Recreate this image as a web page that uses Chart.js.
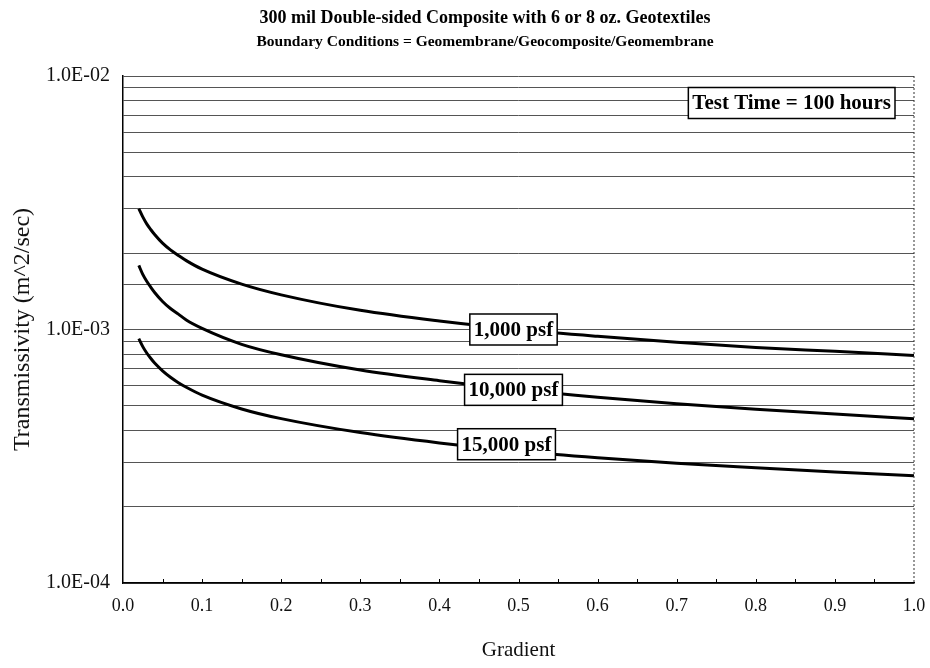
<!DOCTYPE html>
<html>
<head>
<meta charset="utf-8">
<script src="https://cdn.jsdelivr.net/npm/chart.js@4"></script>
<style>
  html, body { margin: 0; padding: 0; background: #fff; }
  #wrap { width: 930px; height: 668px; }
</style>
</head>
<body>
<div id="wrap"><canvas id="grafico"></canvas></div>
<script>
// valores (gradiente x transmissividade)
const gradientes = [0.02, 0.025, 0.03, 0.035, 0.04, 0.05, 0.06, 0.07, 0.08, 0.1, 0.15, 0.2, 0.3, 0.4, 0.5, 0.6, 0.7, 0.8, 0.9, 1.0];
const psf1000 = [3.00e-3, 2.78e-3, 2.61e-3, 2.48e-3, 2.37e-3, 2.19e-3, 2.06e-3, 1.96e-3, 1.87e-3, 1.73e-3, 1.51e-3, 1.37e-3, 1.19e-3, 1.08e-3, 1.00e-3, 0.94e-3, 0.89e-3, 0.85e-3, 0.82e-3, 0.79e-3];
const psf10000 = [1.79e-3, 1.65e-3, 1.55e-3, 1.47e-3, 1.40e-3, 1.29e-3, 1.21e-3, 1.15e-3, 1.09e-3, 1.01e-3, 0.874e-3, 0.795e-3, 0.692e-3, 0.628e-3, 0.578e-3, 0.540e-3, 0.510e-3, 0.485e-3, 0.464e-3, 0.445e-3];
const psf15000 = [0.92e-3, 0.856e-3, 0.808e-3, 0.770e-3, 0.737e-3, 0.687e-3, 0.648e-3, 0.617e-3, 0.592e-3, 0.551e-3, 0.486e-3, 0.445e-3, 0.392e-3, 0.357e-3, 0.331e-3, 0.312e-3, 0.297e-3, 0.285e-3, 0.274e-3, 0.265e-3];
const rotulos = ['1,000 psf', '10,000 psf', '15,000 psf'];
const ticksX = [0, 0.1, 0.2, 0.3, 0.4, 0.5, 0.6, 0.7, 0.8, 0.9, 1.0];

const titulo = '300 mil Double-sided Composite with 6 or 8 oz. Geotextiles';
const subtitulo = 'Boundary Conditions = Geomembrane/Geocomposite/Geomembrane';
const nota = 'Test Time = 100 hours';

const serif = '"Liberation Serif", "Times New Roman", serif';

function pontos(valores) {
    return gradientes.map((g, i) => ({ x: g, y: valores[i] }));
}

const serie = (valores) => ({
    data: pontos(valores),
    borderColor: '#000',
    borderWidth: 3,
    pointRadius: 0,
    fill: false,
    cubicInterpolationMode: 'monotone'
});

function caixa(ctx, texto, cx, cy) {
    ctx.font = 'bold 21px ' + serif;
    const w = ctx.measureText(texto).width + 8;
    const h = 31;
    ctx.fillStyle = '#fff';
    ctx.fillRect(cx - w / 2, cy - h / 2, w, h);
    ctx.strokeStyle = '#000';
    ctx.lineWidth = 1.5;
    ctx.strokeRect(cx - w / 2, cy - h / 2, w, h);
    ctx.fillStyle = '#000';
    ctx.textAlign = 'center';
    ctx.textBaseline = 'middle';
    ctx.fillText(texto, cx, cy + 1);
}

const notasPlugin = {
    id: 'notas',
    afterDatasetsDraw(chart) {
        const { ctx, chartArea, scales } = chart;
        ctx.save();
        // borda direita pontilhada
        ctx.strokeStyle = '#333';
        ctx.lineWidth = 1;
        ctx.setLineDash([2, 2]);
        ctx.beginPath();
        ctx.moveTo(chartArea.right, chartArea.top);
        ctx.lineTo(chartArea.right, chartArea.bottom);
        ctx.stroke();
        ctx.setLineDash([]);

        // pequenas marcas no eixo x a cada 0.05
        ctx.strokeStyle = '#000';
        ctx.lineWidth = 1;
        for (let v = 0.05; v < 1; v += 0.05) {
            const px = Math.round(scales.x.getPixelForValue(v)) + 0.5;
            ctx.beginPath();
            ctx.moveTo(px, chartArea.bottom);
            ctx.lineTo(px, chartArea.bottom - 4);
            ctx.stroke();
        }

        // rótulos das curvas, perto de x = 0.5
        const idx = gradientes.indexOf(0.5);
        const series = [psf1000, psf10000, psf15000];
        const ajusteX = [-5, -5, -12];
        const ajusteY = [0, 0, -7];
        series.forEach((s, k) => {
            const cx = scales.x.getPixelForValue(gradientes[idx]) + ajusteX[k];
            const cy = scales.y.getPixelForValue(s[idx]) + ajusteY[k];
            caixa(ctx, rotulos[k], cx, cy);
        });

        // nota no canto superior direito
        ctx.font = 'bold 21px ' + serif;
        const w = ctx.measureText(nota).width + 8;
        caixa(ctx, nota, chartArea.right - 19 - w / 2, chartArea.top + 27);

        // títulos
        ctx.fillStyle = '#000';
        ctx.textAlign = 'center';
        ctx.textBaseline = 'middle';
        ctx.font = 'bold 18px ' + serif;
        ctx.fillText(titulo, 485, 18);
        ctx.font = 'bold 15.5px ' + serif;
        ctx.fillText(subtitulo, 485, 42);
        ctx.restore();
    }
};

document.addEventListener('DOMContentLoaded', () => {
    const ctx = document.getElementById('grafico').getContext('2d');
    new Chart(ctx, {
        type: 'line',
        data: {
            datasets: [serie(psf1000), serie(psf10000), serie(psf15000)]
        },
        options: {
            responsive: true,
            maintainAspectRatio: false,
            animation: false,
            layout: { padding: { top: 76, right: 16, left: 0, bottom: 0 } },
            plugins: { legend: { display: false }, tooltip: { enabled: false } },
            scales: {
                x: {
                    type: 'linear',
                    min: 0,
                    max: 1,
                    afterFit(scale) {
                        scale.height = 85;
                        scale.paddingLeft = 0;
                        scale.paddingRight = 0;
                    },
                    afterBuildTicks(scale) { scale.ticks = ticksX.map(v => ({ value: v })); },
                    grid: { display: false, drawTicks: false },
                    border: { display: true, color: '#000', width: 1.5 },
                    ticks: {
                        padding: 12,
                        color: '#111',
                        font: { family: serif, size: 18 },
                        callback: (v) => Number(v).toFixed(1)
                    },
                    title: {
                        display: true,
                        text: 'Gradient',
                        color: '#111',
                        font: { family: serif, size: 21 },
                        padding: { top: 0, bottom: 5 }
                    }
                },
                y: {
                    type: 'logarithmic',
                    min: 1e-4,
                    max: 1e-2,
                    afterFit(scale) { scale.width = 123; },
                    grid: {
                        drawTicks: false,
                        color: '#555',
                        lineWidth: 1
                    },
                    border: { display: true, color: '#000', width: 1.5 },
                    ticks: {
                        autoSkip: false,
                        padding: 13,
                        color: '#111',
                        font: { family: serif, size: 20 },
                        callback: (v) => {
                            const e = Math.log10(v);
                            if (Math.abs(e - Math.round(e)) > 1e-6) return '';
                            return '1.0E-' + String(-Math.round(e)).padStart(2, '0');
                        }
                    },
                    title: {
                        display: true,
                        text: 'Transmissivity (m^2/sec)',
                        color: '#111',
                        font: { family: serif, size: 24 },
                        padding: { top: 8, bottom: 0 }
                    }
                }
            }
        },
        plugins: [notasPlugin]
    });
});
</script>
</body>
</html>
